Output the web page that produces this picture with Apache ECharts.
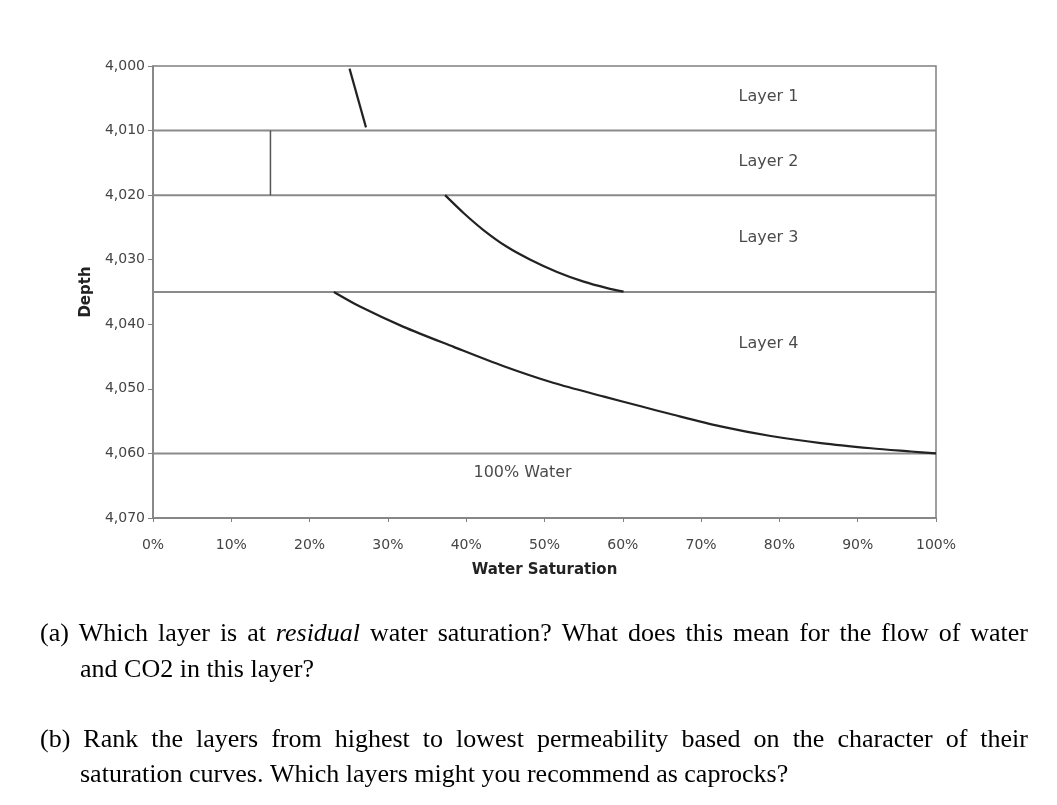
<!DOCTYPE html>
<html>
<head>
<meta charset="utf-8">
<script src="https://cdn.jsdelivr.net/npm/echarts@6/dist/echarts.min.js"></script>
<style>
  html, body { margin: 0; padding: 0; background: #fff; }
  #chart { width: 1057px; height: 805px; }
</style>
</head>
<body>
<div id="chart"></div>
<script>
// ---- data ----
const depthTicks = [4000, 4010, 4020, 4030, 4040, 4050, 4060, 4070];
const satTicks = [0, 10, 20, 30, 40, 50, 60, 70, 80, 90, 100];
const layerBoundaries = [4010, 4020, 4035, 4060];
const layer1Curve = [[25.1, 4000.4], [27.2, 4009.5]];
const layer2Curve = [[15.0, 4010], [15.0, 4020]];
const layer3Curve = [[37.3, 4020], [39.7, 4022.8], [42.2, 4025.4], [45.2, 4028.0], [48.2, 4030.0],
  [51.6, 4031.9], [55.0, 4033.4], [58.0, 4034.4], [60.1, 4034.95]];
const layer4Curve = [[23.1, 4035], [26.5, 4037.3], [32.0, 4040.4], [38.4, 4043.5], [44.8, 4046.5],
  [51.2, 4049.1], [57.6, 4051.2], [62.3, 4052.7], [66.1, 4053.9], [72.5, 4055.8], [78.9, 4057.3],
  [85.3, 4058.4], [91.7, 4059.2], [96.8, 4059.7], [100, 4060]];
const annotationNames = ['Layer 1', 'Layer 2', 'Layer 3', 'Layer 4', '100% Water'];
const annotationAt = [[78.6, 4004.8], [78.6, 4014.9], [78.6, 4026.6], [78.6, 4043.1], [47.2, 4063.0]];
const xAxisTitle = 'Water Saturation';
const yAxisTitle = 'Depth';
const questionLines = [
  { words: '(a) Which layer is at residual water saturation? What does this mean for the flow of water', justify: true, x0: 40, x1: 1028, y: 634 },
  { words: 'and CO2 in this layer?', justify: false, x0: 80, y: 670 },
  { words: '(b) Rank the layers from highest to lowest permeability based on the character of their', justify: true, x0: 40, x1: 1028, y: 740 },
  { words: 'saturation curves. Which layers might you recommend as caprocks?', justify: false, x0: 80, y: 775 }
];
const italicWords = ['residual'];

// ---- build ----
const SANS = '"DejaVu Sans", "Liberation Sans", sans-serif';
const SERIF = '"Liberation Serif", "Times New Roman", serif';
const FS = 26;
const chart = echarts.init(document.getElementById('chart'), null, { renderer: 'canvas' });

const measureCtx = document.createElement('canvas').getContext('2d');
function fontStr(italic) { return (italic ? 'italic ' : '') + FS + 'px ' + SERIF; }
function wordWidth(w) {
  measureCtx.font = fontStr(italicWords.indexOf(w) >= 0);
  return measureCtx.measureText(w).width;
}
measureCtx.font = fontStr(false);
const spaceW = measureCtx.measureText(' ').width;

const graphics = [];
questionLines.forEach(function (ln) {
  const words = ln.words.split(' ');
  const widths = words.map(wordWidth);
  const total = widths.reduce(function (a, b) { return a + b; }, 0);
  let gap = spaceW;
  if (ln.justify && words.length > 1) gap = (ln.x1 - ln.x0 - total) / (words.length - 1);
  let x = ln.x0;
  words.forEach(function (w, i) {
    const it = italicWords.indexOf(w) >= 0;
    graphics.push({
      type: 'text', x: x, y: ln.y, silent: true,
      style: { text: w, fill: '#000', fontFamily: SERIF, fontSize: FS, fontStyle: it ? 'italic' : 'normal',
        verticalAlign: 'middle', align: 'left' }
    });
    x += widths[i] + gap;
  });
});

const series = [];
layerBoundaries.forEach(function (d) {
  series.push({ type: 'line', data: [[0, d], [100, d]], symbol: 'none', silent: true,
    lineStyle: { color: '#8a8a8a', width: 2 }, z: 2 });
});
series.push({ type: 'line', data: layer2Curve, symbol: 'none', silent: true, lineStyle: { color: '#555', width: 1.5 }, z: 3 });
series.push({ type: 'line', data: layer1Curve, symbol: 'none', silent: true, lineStyle: { color: '#222', width: 2.2 }, z: 3 });
series.push({ type: 'line', data: layer3Curve, symbol: 'none', smooth: 0.3, silent: true, lineStyle: { color: '#222', width: 2.2 }, z: 3 });
series.push({ type: 'line', data: layer4Curve, symbol: 'none', smooth: 0.3, silent: true, lineStyle: { color: '#222', width: 2.2 }, z: 3 });
series.push({
  type: 'scatter', symbolSize: 0, silent: true, z: 4,
  data: annotationAt.map(function (p, i) { return { name: annotationNames[i], value: p }; }),
  label: { show: true, position: 'inside', formatter: '{b}', color: '#1a1a1a', fontFamily: SANS, fontSize: 16 }
});

chart.setOption({
  animation: false,
  backgroundColor: '#fff',
  grid: { left: 153, right: 121, top: 66, bottom: 287, show: true, borderColor: '#808080', borderWidth: 1.5, backgroundColor: 'transparent' },
  xAxis: {
    type: 'value', min: satTicks[0], max: satTicks[satTicks.length - 1], interval: 10,
    name: xAxisTitle, nameLocation: 'middle', nameGap: 45,
    nameTextStyle: { fontFamily: SANS, fontWeight: 'bold', fontSize: 15, color: '#222' },
    axisLine: { show: true, onZero: false, lineStyle: { color: '#808080', width: 1.5 } },
    axisTick: { show: true, length: 4, lineStyle: { color: '#808080' } },
    axisLabel: { margin: 20, fontFamily: SANS, fontSize: 14, color: '#444', formatter: function (v) { return v + '%'; } },
    splitLine: { show: false }
  },
  yAxis: {
    type: 'value', inverse: true, min: depthTicks[0], max: depthTicks[depthTicks.length - 1], interval: 10,
    name: yAxisTitle, nameLocation: 'middle', nameGap: 58, nameRotate: 90,
    nameTextStyle: { fontFamily: SANS, fontWeight: 'bold', fontSize: 15, color: '#222' },
    axisLine: { show: true, onZero: false, lineStyle: { color: '#808080', width: 1.5 } },
    axisTick: { show: true, length: 5, lineStyle: { color: '#808080' } },
    axisLabel: { margin: 8, fontFamily: SANS, fontSize: 14, color: '#444', formatter: function (v) { return v.toLocaleString('en-US'); } },
    splitLine: { show: false }
  },
  series: series,
  graphic: graphics
});
</script>
</body>
</html>
